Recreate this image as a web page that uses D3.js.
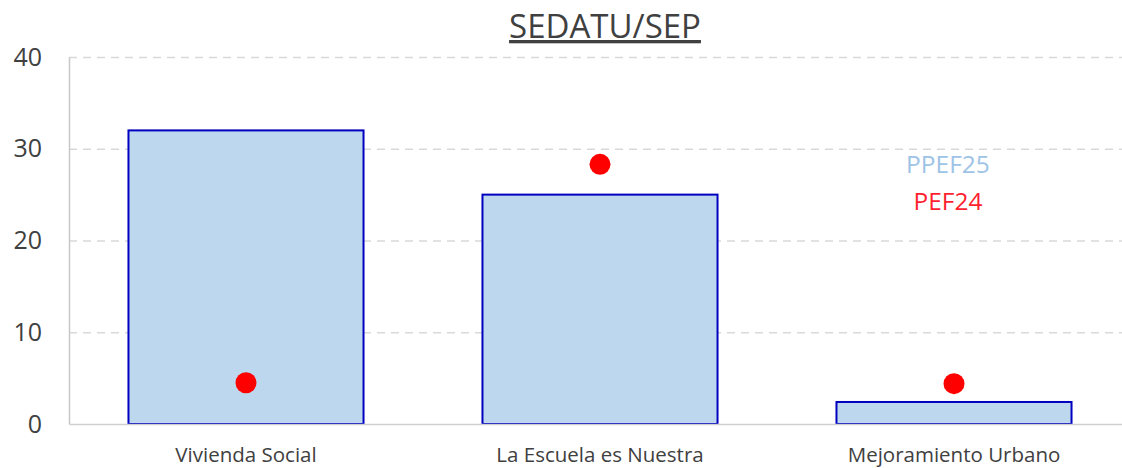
<!DOCTYPE html>
<html>
<head>
<meta charset="utf-8">
<script src="https://cdn.jsdelivr.net/npm/d3@7"></script>
<style>
  body { margin: 0; background: #fff; }
  text { font-family: "Open Sans", "DejaVu Sans", sans-serif; }
</style>
</head>
<body>
<script>
// data
var categories = ["Vivienda Social", "La Escuela es Nuestra", "Mejoramiento Urbano"];
var ppef25 = [32, 25, 2.4];   // bars
var pef24 = [4.5, 28.3, 4.4]; // dots
var yTicks = [0, 10, 20, 30, 40];
var title = "SEDATU/SEP";
var legendLabels = ["PPEF25", "PEF24"];

var w = 1122, h = 468;
var plotLeft = 69, plotRight = 1131, plotTop = 57, plotBottom = 424;

var svg = d3.select("body").append("svg")
  .attr("width", w)
  .attr("height", h);

var x = d3.scaleBand().domain(categories).range([plotLeft, plotRight]).paddingInner(0.336).paddingOuter(0.168);
var y = d3.scaleLinear().domain([0, 40]).range([plotBottom, plotTop]);

// gridlines
svg.append("g").selectAll("line")
  .data(yTicks.filter(function(d) { return d > 0; }))
  .enter().append("line")
  .attr("x1", plotLeft).attr("x2", w)
  .attr("y1", function(d) { return y(d) + 0.5; })
  .attr("y2", function(d) { return y(d) + 0.5; })
  .attr("stroke", "#d9d9d9")
  .attr("stroke-width", 1.5)
  .attr("stroke-dasharray", "8,6");

// y axis
var yAxis = svg.append("g")
  .attr("transform", "translate(" + plotLeft + ",0)")
  .call(d3.axisLeft(y).tickValues(yTicks).tickSize(0).tickPadding(27));
yAxis.select(".domain").attr("stroke", "#c8c8c8").attr("stroke-width", 1.5);
yAxis.selectAll("text").attr("font-size", 25).attr("fill", "#404040")
  .attr("font-family", "'Open Sans', sans-serif");

// bars
svg.append("g").selectAll("rect")
  .data(ppef25)
  .enter().append("rect")
  .attr("x", function(d, i) { return x(categories[i]); })
  .attr("y", function(d) { return y(d); })
  .attr("width", x.bandwidth())
  .attr("height", function(d) { return y(0) - y(d); })
  .attr("fill", "#bdd7ee")
  .attr("stroke", "#0000c0")
  .attr("stroke-width", 2);

// x axis
var xAxis = svg.append("g")
  .attr("transform", "translate(0," + plotBottom + ")")
  .call(d3.axisBottom(x).tickSize(0).tickPadding(23));
xAxis.select(".domain").attr("stroke", "#d0d0d0").attr("stroke-width", 1.5);
xAxis.selectAll("text").attr("font-size", 20.5).attr("fill", "#404040")
  .attr("font-family", "'Open Sans', sans-serif");

// dots
svg.append("g").selectAll("circle")
  .data(pef24)
  .enter().append("circle")
  .attr("cx", function(d, i) { return x(categories[i]) + x.bandwidth() / 2; })
  .attr("cy", function(d) { return y(d); })
  .attr("r", 10.5)
  .attr("fill", "#ff0000");

// title
svg.append("text")
  .attr("x", 605).attr("y", 38)
  .attr("text-anchor", "middle")
  .attr("font-size", 33)
  .attr("fill", "#404040")
  .attr("text-decoration", "underline")
  .text(title);

// legend labels
svg.append("text")
  .attr("x", 948).attr("y", 173)
  .attr("text-anchor", "middle")
  .attr("font-size", 24.5)
  .attr("fill", "#9dc3e6")
  .text(legendLabels[0]);
svg.append("text")
  .attr("x", 948).attr("y", 210)
  .attr("text-anchor", "middle")
  .attr("font-size", 24.5)
  .attr("fill", "#ff1f2f")
  .text(legendLabels[1]);
</script>
</body>
</html>
